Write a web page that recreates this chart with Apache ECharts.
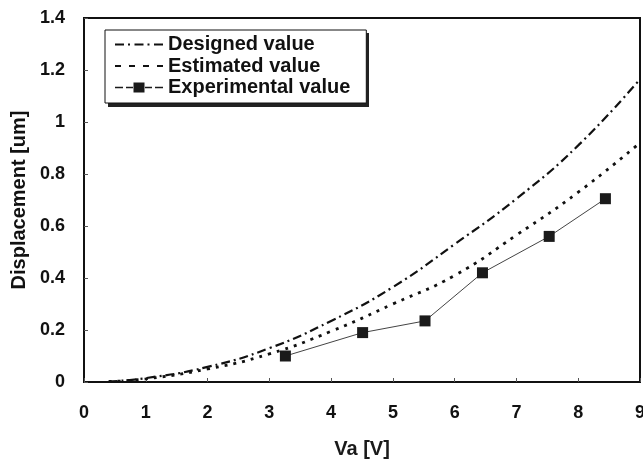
<!DOCTYPE html>
<html>
<head>
<meta charset="utf-8">
<script src="https://cdn.jsdelivr.net/npm/echarts@6/dist/echarts.min.js"></script>
<style>
  html, body { margin: 0; padding: 0; background: #fff; }
  #chart { width: 643px; height: 460px; }
</style>
</head>
<body>
<div id="chart"></div>
<script>
// values
const designedVa = [0.4, 1, 2, 3, 4, 5, 6, 7, 8, 9];
const designedDisp = [0.002, 0.015, 0.058, 0.13, 0.235, 0.365, 0.53, 0.705, 0.91, 1.165];

const estimatedVa = [0.4, 1, 2, 3, 4, 5, 6, 7, 8, 9];
const estimatedDisp = [0.002, 0.012, 0.05, 0.108, 0.195, 0.3, 0.41, 0.565, 0.73, 0.92];

const experimentalVa = [3.26, 4.51, 5.52, 6.45, 7.53, 8.44];
const experimentalDisp = [0.1, 0.19, 0.235, 0.42, 0.56, 0.705];

const FONT = '"Liberation Sans", Arial, sans-serif';

// legend samples (drawn as icons so they look like the printed key)
const ICON_DESIGNED = 'path://M0,0h9v2h-9z M13,0h2v2h-2z M19.5,0h9v2h-9z M32.5,0h2v2h-2z M39,0h9v2h-9z';
const ICON_ESTIMATED = 'path://M0,0h6v2h-6z M14,0h6v2h-6z M28,0h6v2h-6z M42,0h6v2h-6z';
const ICON_EXPERIMENTAL = 'path://M0,4.2h8v1.6h-8z M11,4.2h7v1.6h-7z M18.5,0h11v10h-11z M30,4.2h7v1.6h-7z M40,4.2h8v1.6h-8z';

const zip = (xs, ys) => xs.map((x, i) => [x, ys[i]]);

const chart = echarts.init(document.getElementById('chart'));

const option = {
  animation: false,
  backgroundColor: '#fff',
  grid: {
    left: 84,
    right: 3,
    top: 18,
    bottom: 78,
    outerBoundsMode: 'none',
    containLabel: false,
    show: true,
    borderColor: '#111',
    borderWidth: 2,
  },
  // drop shadow behind the legend box
  graphic: [
    {
      type: 'rect',
      left: 108,
      top: 33,
      z: 3,
      shape: { width: 261, height: 74 },
      style: { fill: '#222' },
    },
  ],
  legend: {
    left: 105,
    top: 30,
    z: 5,
    orient: 'vertical',
    padding: [4, 16, 5, 10],
    itemGap: 0.5,
    itemWidth: 48,
    itemHeight: 10,
    backgroundColor: '#fff',
    borderColor: '#111',
    borderWidth: 1,
    textStyle: {
      fontFamily: FONT,
      fontWeight: 'bold',
      fontSize: 20,
      lineHeight: 21,
      color: '#111',
    },
    data: [
      { name: 'Designed value', icon: ICON_DESIGNED },
      { name: 'Estimated value', icon: ICON_ESTIMATED },
      { name: 'Experimental value', icon: ICON_EXPERIMENTAL },
    ],
  },
  xAxis: {
    type: 'value',
    min: 0,
    max: 9,
    interval: 1,
    axisLine: { lineStyle: { color: '#111', width: 2 } },
    axisTick: { inside: true, length: 4, lineStyle: { color: '#555' } },
    splitLine: { show: false },
    axisLabel: {
      margin: 22,
      fontFamily: FONT,
      fontWeight: 'bold',
      fontSize: 18,
      color: '#111',
    },
    name: 'Va [V]',
    nameLocation: 'middle',
    nameGap: 57,
    nameTextStyle: {
      fontFamily: FONT,
      fontWeight: 'bold',
      fontSize: 20,
      color: '#1a1a1a',
    },
  },
  yAxis: {
    type: 'value',
    min: 0,
    max: 1.4,
    interval: 0.2,
    axisLine: { lineStyle: { color: '#111', width: 2 } },
    axisTick: { inside: true, length: 4, lineStyle: { color: '#555' } },
    splitLine: { show: false },
    axisLabel: {
      margin: 19,
      padding: [3, 0, 0, 0],
      fontFamily: FONT,
      fontWeight: 'bold',
      fontSize: 18,
      color: '#111',
      formatter: (v) => String(Math.round(v * 10) / 10),
    },
    name: 'Displacement [um]',
    nameLocation: 'middle',
    nameGap: 51,
    nameTextStyle: {
      fontFamily: FONT,
      fontWeight: 'bold',
      fontSize: 20,
      color: '#111',
    },
  },
  series: [
    {
      name: 'Designed value',
      type: 'line',
      smooth: true,
      symbol: 'none',
      data: zip(designedVa, designedDisp),
      lineStyle: { color: '#111', width: 2.2, type: [9, 4, 2, 4] },
      itemStyle: { color: '#111' },
    },
    {
      name: 'Estimated value',
      type: 'line',
      smooth: true,
      symbol: 'none',
      data: zip(estimatedVa, estimatedDisp),
      lineStyle: { color: '#111', width: 2.8, type: [3, 6] },
      itemStyle: { color: '#111' },
    },
    {
      name: 'Experimental value',
      type: 'line',
      symbol: 'rect',
      symbolSize: 11,
      data: zip(experimentalVa, experimentalDisp),
      lineStyle: { color: '#444', width: 1 },
      itemStyle: { color: '#1a1a1a' },
    },
  ],
};

chart.setOption(option);
</script>
</body>
</html>
